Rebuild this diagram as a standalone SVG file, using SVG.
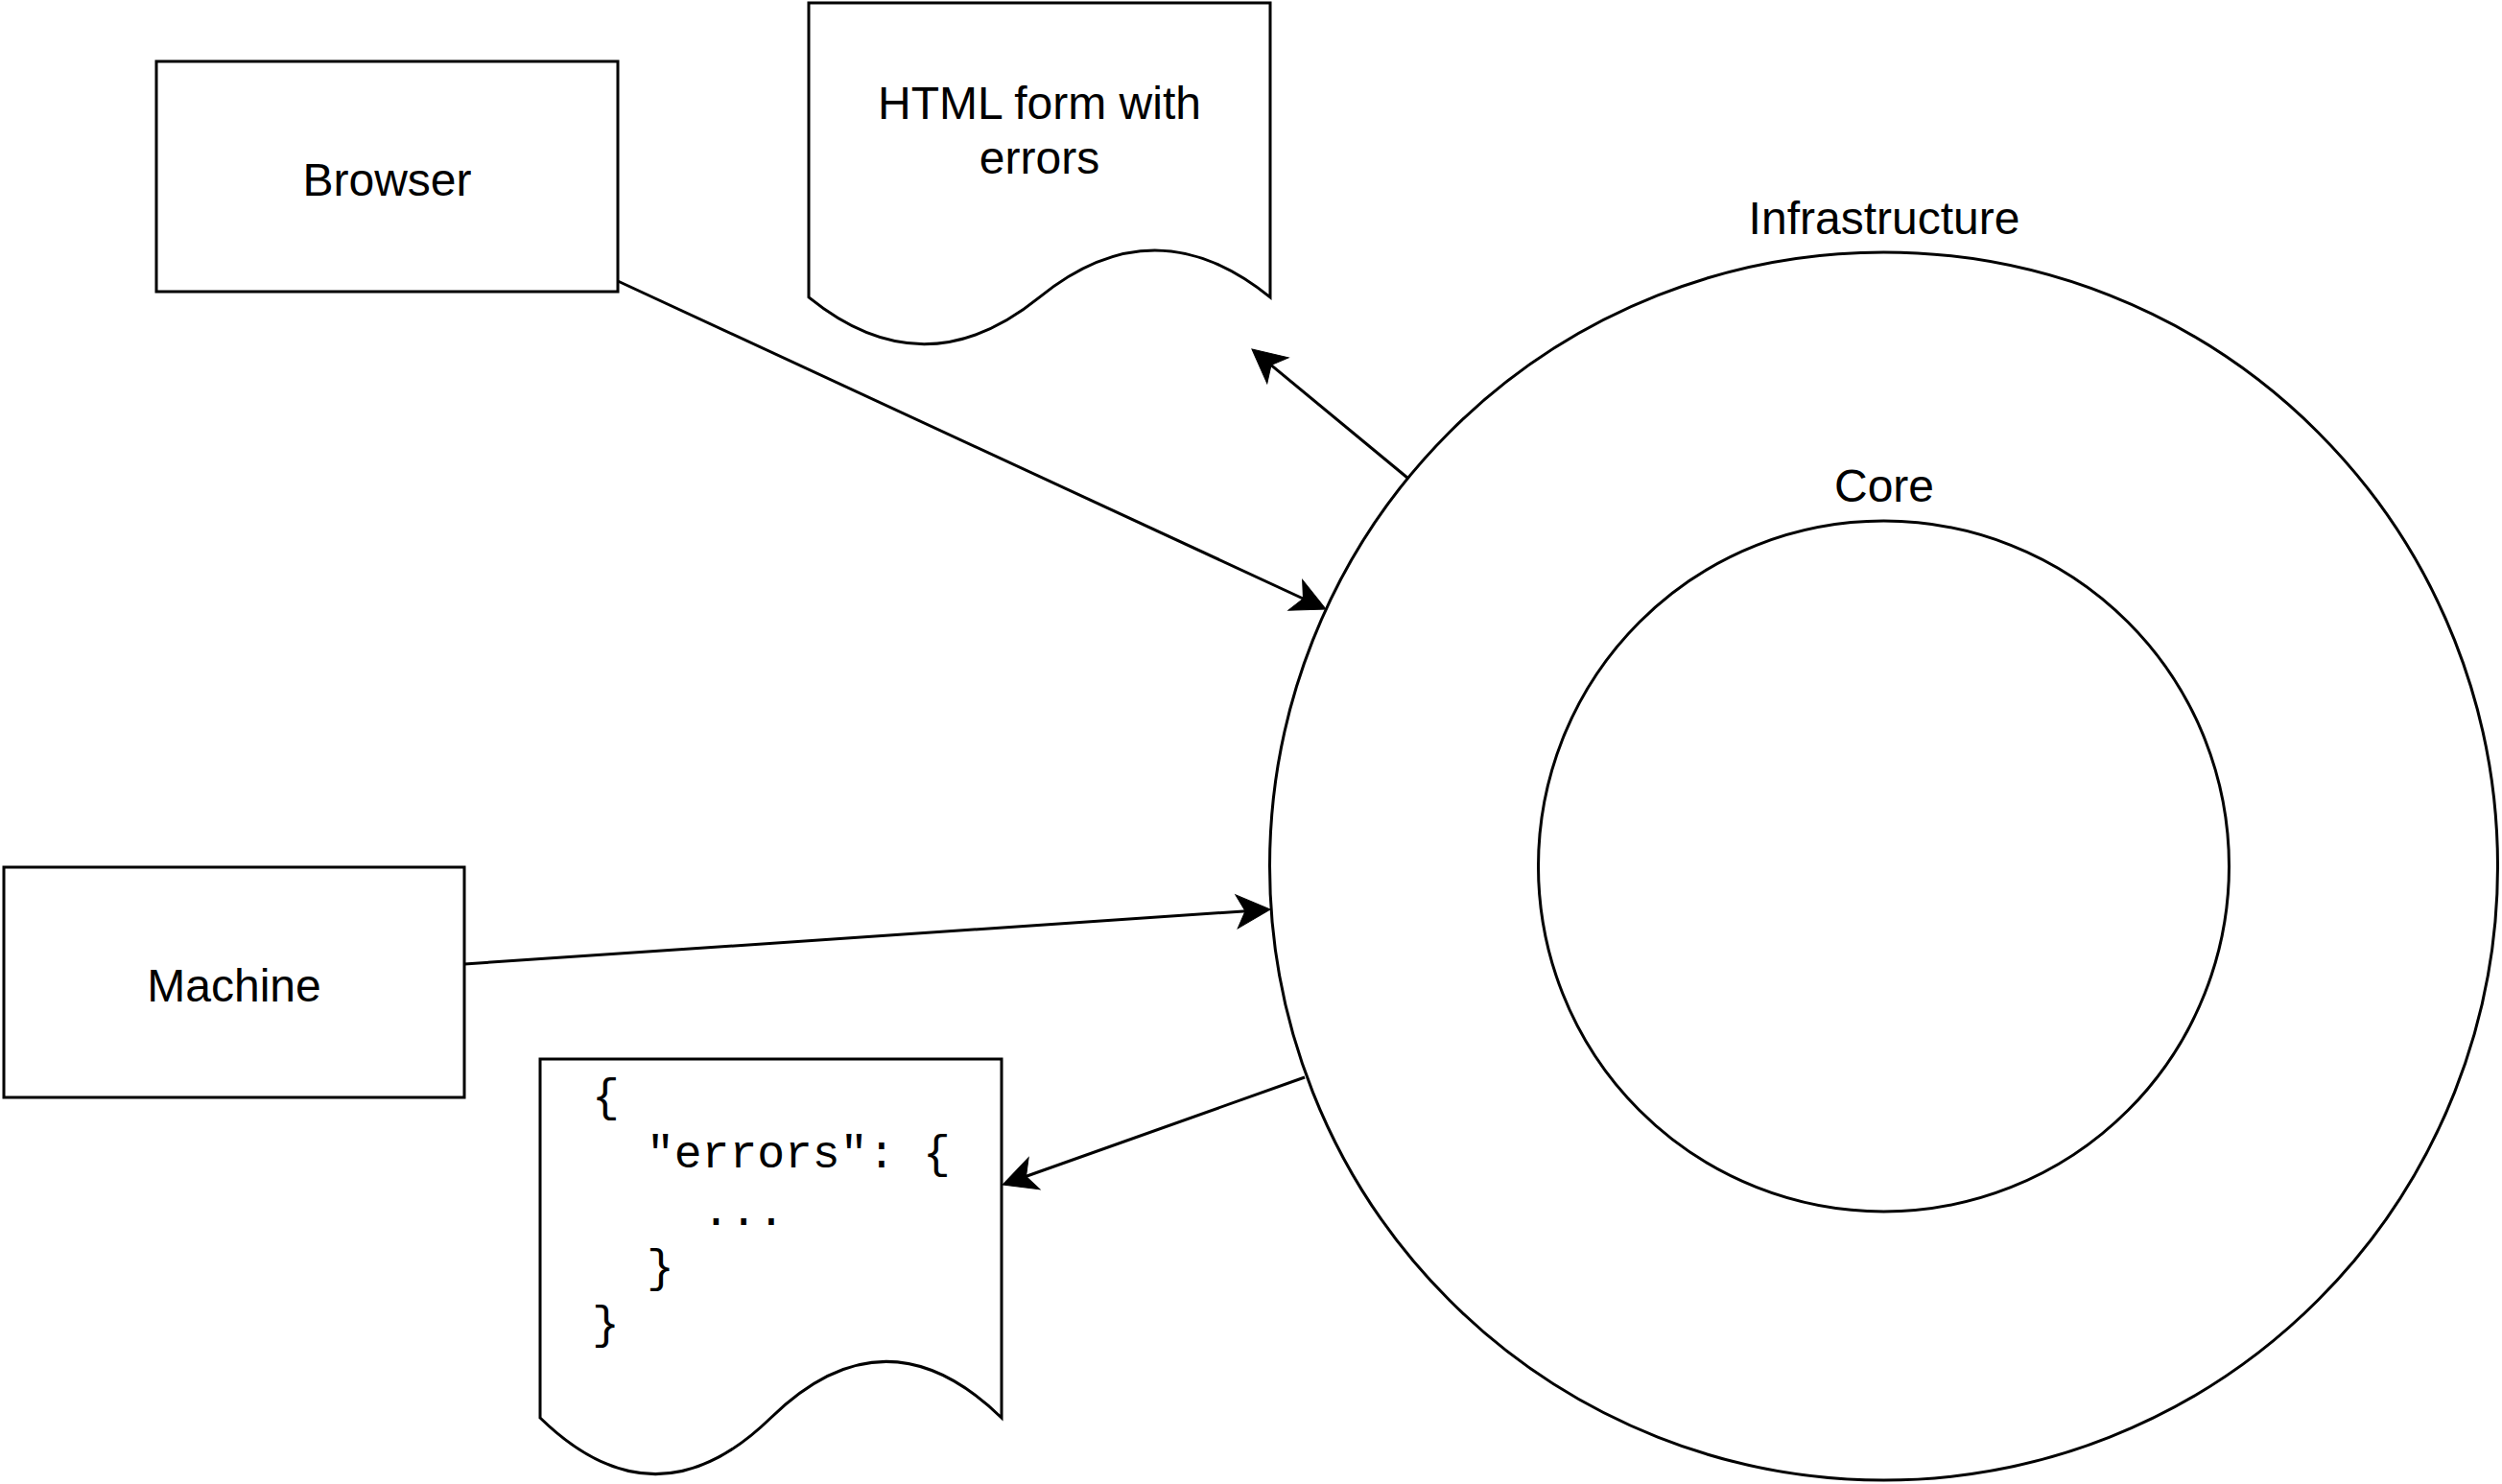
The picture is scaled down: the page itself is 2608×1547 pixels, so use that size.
<svg xmlns="http://www.w3.org/2000/svg" width="2608" height="1547" viewBox="0 0 2608 1547">
<style>
.shape{fill:#fff;stroke:#000;stroke-width:3}
.lbl{font-family:"Liberation Sans",Arial,sans-serif;font-size:48px;fill:#000;text-anchor:middle}
.mono{font-family:"Liberation Mono","Courier New",monospace;font-size:48px;fill:#000}
.edge{fill:none;stroke:#000;stroke-width:3}
</style>
<defs>
<marker id="arr" markerUnits="userSpaceOnUse" orient="auto" refX="-6" refY="0" markerWidth="40" markerHeight="40" viewBox="-36 -20 40 40" overflow="visible">
<path d="M0,0 L-35,-17.5 L-26,0 L-35,17.5 Z" fill="#000" stroke="#000" stroke-width="1"/>
</marker>
</defs>
<rect width="2608" height="1547" fill="#fff"/>
<g id="infrastructure">
<circle class="shape" cx="1963.5" cy="903" r="640"/>
<text class="lbl" x="1964" y="244">Infrastructure</text>
</g>
<g id="core">
<circle class="shape" cx="1963.5" cy="903" r="360"/>
<text class="lbl" x="1964" y="523">Core</text>
</g>
<g id="browser">
<rect class="shape" x="163" y="64" width="481" height="240"/>
<text class="lbl" x="403.5" y="204">Browser</text>
</g>
<g id="machine">
<rect class="shape" x="4" y="904" width="480" height="240"/>
<text class="lbl" x="244" y="1044">Machine</text>
</g>
<g id="html-doc">
<path class="shape" d="M843,3 H1324 V309.9 Q1203.75,212.2 1083.5,309.9 Q963.25,407.5 843,309.9 Z"/>
<text class="lbl" x="1083.5" y="124">HTML form with</text>
<text class="lbl" x="1083.5" y="181">errors</text>
</g>
<g id="json-doc">
<path class="shape" d="M563,1104 H1044 V1478 Q923.75,1360.8 803.5,1478 Q683.25,1595.2 563,1478 Z"/>
<text class="mono" x="617" y="1158">{</text>
<text class="mono" x="674" y="1217">"errors": {</text>
<text class="mono" x="732" y="1277">...</text>
<text class="mono" x="674" y="1336">}</text>
<text class="mono" x="617" y="1395">}</text>
</g>
<g id="connectors">
<path class="edge" marker-end="url(#arr)" d="M644,293 L1376.6,632.5"/>
<path class="edge" marker-end="url(#arr)" d="M1467,498 L1309.6,367.8"/>
<path class="edge" marker-end="url(#arr)" d="M484,1005 L1318,948.4"/>
<path class="edge" marker-end="url(#arr)" d="M1360,1123 L1050.7,1233"/>
</g>
</svg>
